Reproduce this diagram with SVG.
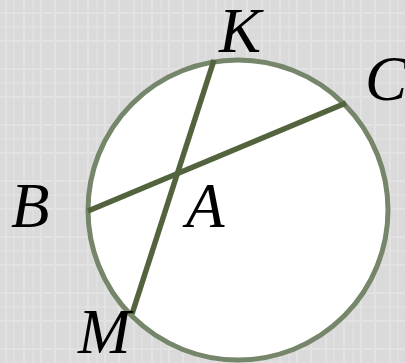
<svg xmlns="http://www.w3.org/2000/svg" width="405" height="363" viewBox="0 0 405 363">
<defs>
<pattern id="tex" width="64" height="56" patternUnits="userSpaceOnUse">
<rect width="64" height="56" fill="#dadada"/>
<g stroke="#e2e2e2" stroke-width="2">
<line x1="6" y1="0" x2="6" y2="56"/>
<line x1="24" y1="0" x2="24" y2="56"/>
<line x1="41" y1="0" x2="41" y2="56"/>
<line x1="55" y1="0" x2="55" y2="56"/>
<line x1="0" y1="13" x2="64" y2="13"/>
<line x1="0" y1="41" x2="64" y2="41"/>
</g>
<g stroke="#e5e5e5" stroke-width="1">
<line x1="14" y1="0" x2="14" y2="56"/>
<line x1="33" y1="0" x2="33" y2="56"/>
<line x1="0" y1="27" x2="64" y2="27"/>
</g>
</pattern>
<style>
.lbl{font-family:"Liberation Serif","Times New Roman",serif;font-style:italic;font-size:63px;fill:#000}
.chord{stroke:#53633d;stroke-width:5.5;stroke-linecap:butt}
</style>
</defs>
<rect width="405" height="363" fill="url(#tex)"/>
<g id="circle">
<circle cx="238" cy="210" r="150" fill="#ffffff" stroke="#76866a" stroke-width="5"/>
</g>
<g id="connectors">
<line class="chord" x1="214" y1="60" x2="132" y2="314"/>
<line class="chord" x1="88" y1="211" x2="346" y2="103"/>
</g>
<g id="labels">
<text id="K" class="lbl" x="219" y="52">K</text>
<text id="C" class="lbl" x="365" y="100">C</text>
<text id="B" class="lbl" x="11" y="227">B</text>
<text id="A" class="lbl" x="186" y="227">A</text>
<text id="M" class="lbl" x="78" y="353">M</text>
</g>
</svg>
